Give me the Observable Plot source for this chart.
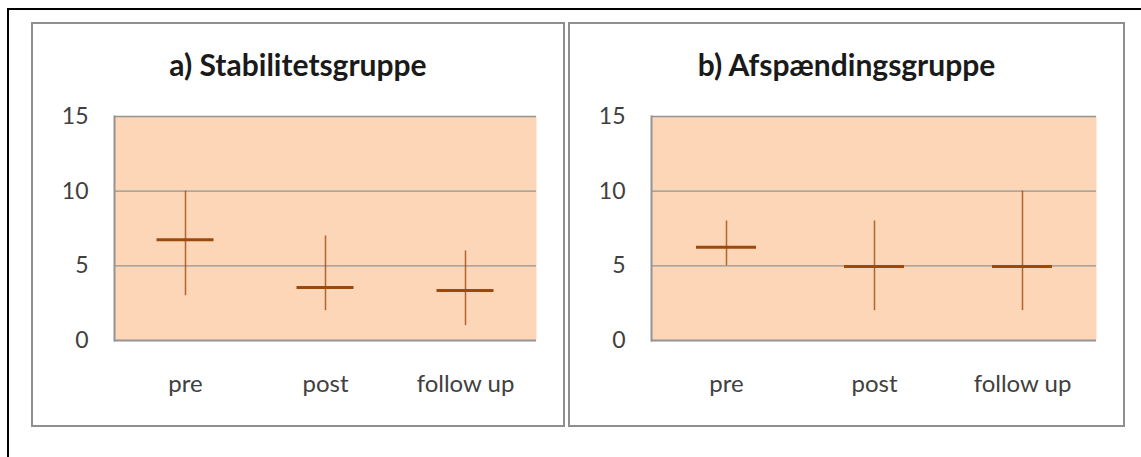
<!DOCTYPE html>
<html>
<head>
<meta charset="utf-8">
<script src="https://cdn.jsdelivr.net/npm/d3@7"></script>
<script src="https://cdn.jsdelivr.net/npm/@observablehq/plot@0.6"></script>
<style>
  html, body { margin: 0; padding: 0; background: #fff; overflow: hidden; }
  body { width: 1141px; height: 457px; position: relative; font-family: Lato, "Open Sans", sans-serif; }
  .outer { position: absolute; left: 7px; top: 8px; width: 1200px; height: 500px;
           border-left: 2px solid #000; border-top: 2px solid #000; box-sizing: border-box; }
  .panel { position: absolute; top: 22px; height: 405px; border: 2px solid #8f8f8f; box-sizing: border-box; }
  .chart { position: absolute; top: 23px; }
  .title { position: absolute; top: 49px; font-weight: bold; font-size: 30px; line-height: 30px;
           color: #1a1a1a; text-align: center; white-space: nowrap; }
</style>
</head>
<body>
<div class="outer"></div>
<div class="panel" id="panelA" style="left:31px; width:534px;"></div>
<div class="panel" id="panelB" style="left:568px; width:557px;"></div>
<div class="title" style="left:31px; width:534px;">a) Stabilitetsgruppe</div>
<div class="title" style="left:568px; width:557px;">b) Afspændingsgruppe</div>
<div class="chart" id="chartA" style="left:32px;"></div>
<div class="chart" id="chartB" style="left:569px;"></div>
<script>
// Measurement occasions
const categories = ["pre", "post", "follow up"];
const yTicks = [0, 5, 10, 15];

// a) Stabilitetsgruppe: mean, lowest and highest score
const stabMean = [6.75, 3.55, 3.35];
const stabLow = [3, 2, 1];
const stabHigh = [10, 7, 6];

// b) Afspændingsgruppe: mean, lowest and highest score
const afspMean = [6.25, 4.95, 4.95];
const afspLow = [5, 2, 2];
const afspHigh = [8, 8, 10];

const rows = (mean, low, high) =>
  categories.map((c, i) => ({occasion: c, mean: mean[i], low: low[i], high: high[i]}));

const fillColor = "#fcd6b7";
const gridColor = "#939393";
const barColor = "#9b4a0c";

function groupChart(data, width, inset) {
  return Plot.plot({
    width,
    height: 403,
    marginLeft: 82,
    marginRight: 28,
    marginTop: 93,
    marginBottom: 86,
    style: {fontFamily: "Lato, 'Open Sans', sans-serif", fontSize: "22px", color: "#404040", background: "transparent", overflow: "visible"},
    x: {type: "band", domain: categories, padding: 0, label: null},
    y: {domain: [0, 15], ticks: yTicks, label: null},
    marks: [
      Plot.frame({fill: fillColor, stroke: null}),
      Plot.ruleY([5, 10, 15], {stroke: gridColor, strokeWidth: 1.3}),
      Plot.ruleY([0], {stroke: gridColor, strokeWidth: 2}),
      Plot.frame({anchor: "left", stroke: gridColor, strokeWidth: 2}),
      Plot.axisX({tickSize: 0, tickPadding: 34, fontSize: 24}),
      Plot.axisY({ticks: yTicks, tickSize: 0, tickPadding: 26, fontSize: 23}),
      Plot.ruleX(data, {x: "occasion", y1: "low", y2: "high", stroke: barColor, strokeWidth: 1.5, strokeOpacity: 0.8}),
      Plot.tickY(data, {x: "occasion", y: "mean", stroke: barColor, strokeWidth: 3, insetLeft: inset, insetRight: inset})
    ]
  });
}

document.getElementById("chartA").append(groupChart(rows(stabMean, stabLow, stabHigh), 532, 41.5));
document.getElementById("chartB").append(groupChart(rows(afspMean, afspLow, afspHigh), 555, 44));
</script>
</body>
</html>
